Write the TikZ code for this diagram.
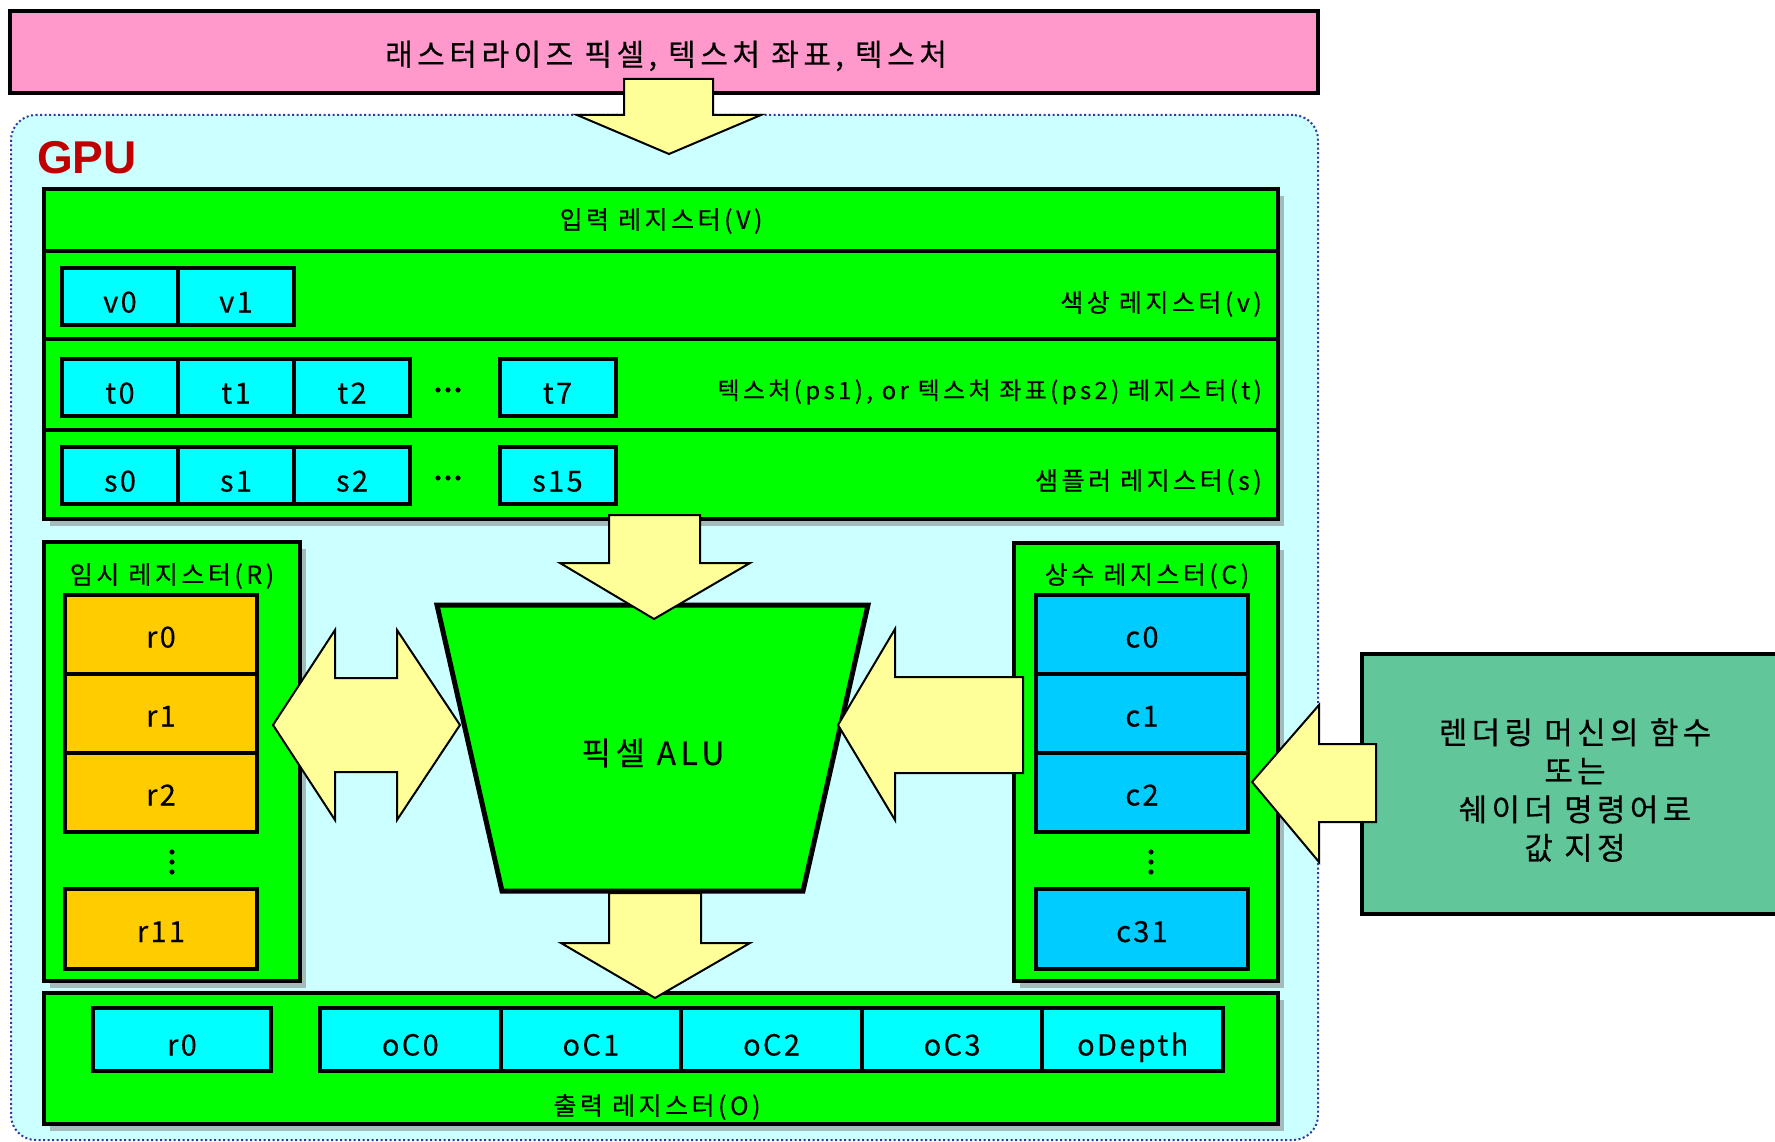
\documentclass[tikz,border=0pt]{standalone}
\usepackage{fontspec}
\setmainfont{Noto Sans CJK KR}
\newfontfamily\krA[LetterSpace=14,FakeBold=0.4]{Noto Sans CJK KR}
\newfontfamily\krB[LetterSpace=15,FakeBold=0.4]{Noto Sans CJK KR}
\newfontfamily\krC[LetterSpace=8,FakeBold=0.3]{Noto Sans CJK KR}
\newfontfamily\gpuf{Liberation Sans}
\usetikzlibrary{shadows}
\definecolor{pinkc}{HTML}{FF99CC}
\definecolor{bgc}{HTML}{CCFFFF}
\definecolor{greenc}{HTML}{00FF00}
\definecolor{cyanc}{HTML}{00FFFF}
\definecolor{orangec}{HTML}{FFCC00}
\definecolor{bluec}{HTML}{00CCFF}
\definecolor{yellowc}{HTML}{FFFF99}
\definecolor{seac}{HTML}{62C69B}
\definecolor{gpuc}{HTML}{C00000}
\definecolor{dotc}{HTML}{2E3A9E}
\definecolor{shadc}{HTML}{A3BBBB}
\begin{document}
\begin{tikzpicture}[x=1pt,y=-1pt,
  box/.style={draw=black, line width=4.5pt, rectangle, inner sep=0pt, outer sep=0pt},
  greenbox/.style={box, fill=greenc},
  shad/.style={general shadow={fill=shadc, shadow xshift=6pt, shadow yshift=-7pt}},
  cell/.style={box, line width=4pt, font=\krC\fontsize{29}{30}\selectfont},
  vcell/.style={cell, fill=cyanc, minimum width=116, minimum height=57, text height=32pt, text depth=0pt},
  rcell/.style={cell, fill=orangec, minimum width=192, text height=26pt, text depth=0pt},
  ccell/.style={cell, fill=bluec, minimum width=212, text height=26pt, text depth=0pt},
  ocell/.style={cell, fill=cyanc, minimum width=180.6, minimum height=63, text height=32pt, text depth=0pt},
  lbl/.style={font=\krA\fontsize{25}{27}\selectfont, inner sep=0pt, yshift=-4pt},
  bigarrow/.style={draw=black, fill=yellowc, line width=2pt, line join=miter},
  dotmark/.style={fill=black}
]
\useasboundingbox (0,0) rectangle (1775,1142);
\fill[white] (0,0) rectangle (1775,1142);

% GPU container
\node[draw=dotc, fill=bgc, line width=2pt, dash pattern=on 2pt off 2.5pt,
      rounded corners=25pt, minimum width=1307, minimum height=1025,
      inner sep=0pt] (gpu) at (664.5,627.5) {};
\node[text=gpuc, font=\gpuf\bfseries\fontsize{46}{46}\selectfont, inner sep=0pt] (gpulabel) at (87,158) {GPU};

% top source box
\node[box, line width=4pt, fill=pinkc, minimum width=1308, minimum height=82] (src) at (664,52) {};
\node[font=\krB\fontsize{30}{32}\selectfont, inner sep=0pt, yshift=-4pt] (srcT) at (666,52) {래스터라이즈 픽셀, 텍스처 좌표, 텍스처};

% top arrow
\draw[bigarrow] (624,79) -- (713,79) -- (713,115) -- (761,115) -- (669,154) -- (577,115) -- (624,115) -- cycle;

% input register block
\node[greenbox, shad, minimum width=1234, minimum height=330] (input) at (661,354) {};
\node[greenbox, minimum width=1234, minimum height=62] (inTitle) at (661,220) {};
\node[greenbox, minimum width=1234, minimum height=88] (inColor) at (661,295) {};
\node[greenbox, minimum width=1234, minimum height=91] (inTex) at (661,384.5) {};
\node[greenbox, minimum width=1234, minimum height=89] (inSamp) at (661,474.5) {};
\node[lbl] (inTitleT) at (661,217) {입력 레지스터(V)};
\node[lbl, anchor=east] (inColorT) at (1262,300) {색상 레지스터(v)};
\node[lbl, anchor=east, font=\krA\fontsize{24}{26}\selectfont] (inTexT) at (1262,388) {텍스처(ps1), or 텍스처 좌표(ps2) 레지스터(t)};
\node[lbl, anchor=east] (inSampT) at (1262,478) {샘플러 레지스터(s)};

\node[vcell] (v0) at (120,296.5) {v0};
\node[vcell] (v1) at (236,296.5) {v1};
\node[vcell] (t0) at (120,387.5) {t0};
\node[vcell] (t1) at (236,387.5) {t1};
\node[vcell] (t2) at (352,387.5) {t2};
\foreach \dx in {438,448,458} \fill[dotmark] (\dx,390) circle (2.6pt);
\node[vcell] (t7) at (557.5,387.5) {t7};
\node[vcell] (s0) at (120,475.5) {s0};
\node[vcell] (s1) at (236,475.5) {s1};
\node[vcell] (s2) at (352,475.5) {s2};
\foreach \dx in {438,448,458} \fill[dotmark] (\dx,478) circle (2.6pt);
\node[vcell] (s15) at (557.5,475.5) {s15};

% temp registers
\node[greenbox, shad, minimum width=256, minimum height=439] (temp) at (172,761.5) {};
\node[lbl] (tempT) at (172,572) {임시 레지스터(R)};
\node[rcell, minimum height=79] (r0) at (161,634.5) {r0};
\node[rcell, minimum height=79] (r1) at (161,713.5) {r1};
\node[rcell, minimum height=79] (r2) at (161,792.5) {r2};
\foreach \dy in {852,862,872} \fill[dotmark] (172,\dy) circle (2.6pt);
\node[rcell, minimum height=80] (r11) at (161,929) {r11};

% const registers
\node[greenbox, shad, minimum width=264, minimum height=438] (const) at (1146,762) {};
\node[lbl] (constT) at (1147,572) {상수 레지스터(C)};
\node[ccell, minimum height=79] (c0) at (1142,634.5) {c0};
\node[ccell, minimum height=79] (c1) at (1142,713.5) {c1};
\node[ccell, minimum height=79] (c2) at (1142,792.5) {c2};
\foreach \dy in {852,862,872} \fill[dotmark] (1151,\dy) circle (2.6pt);
\node[ccell, minimum height=80] (c31) at (1142,929) {c31};

% output registers
\node[greenbox, shad, minimum width=1234, minimum height=131] (output) at (661,1058.5) {};
\node[lbl] (outT) at (657,1103) {출력 레지스터(O)};
\node[ocell, minimum width=178] (or0) at (182,1039.5) {r0};
\node[ocell] (oC0) at (410.3,1039.5) {oC0};
\node[ocell] (oC1) at (590.9,1039.5) {oC1};
\node[ocell] (oC2) at (771.5,1039.5) {oC2};
\node[ocell] (oC3) at (952.1,1039.5) {oC3};
\node[ocell] (oDepth) at (1132.7,1039.5) {oDepth};

% right source box
\node[box, line width=4pt, fill=seac, minimum width=426, minimum height=260] (rbox) at (1575,784) {};
\node[align=center, font=\krA\fontsize{31}{38.5}\selectfont, inner sep=0pt] (rtext) at (1575,790)
  {렌더링 머신의 함수\\또는\\쉐이더 명령어로\\값 지정};

% ALU
\draw[fill=greenc, line width=5pt, line join=miter] (437,605) -- (868,605) -- (803,891) -- (502,891) -- cycle;
\node[font=\krA\fontsize{32}{34}\selectfont, inner sep=0pt] (alu) at (653,753) {픽셀 ALU};

% block arrows
\draw[bigarrow] (609,515) -- (700,515) -- (700,563) -- (750,563) -- (654,619) -- (560,563) -- (609,563) -- cycle;
\draw[bigarrow] (609,893) -- (701,893) -- (701,943) -- (750,943) -- (655,998) -- (561,943) -- (609,943) -- cycle;
\draw[bigarrow] (273,725) -- (335,630) -- (335,678) -- (397,678) -- (397,630) -- (460,725) -- (397,820) -- (397,772) -- (335,772) -- (335,820) -- cycle;
\draw[bigarrow] (838,725) -- (895,629) -- (895,677) -- (1023,677) -- (1023,773) -- (895,773) -- (895,820) -- cycle;
\draw[bigarrow] (1252,782) -- (1319,705) -- (1319,744) -- (1376,744) -- (1376,822) -- (1319,822) -- (1319,862) -- cycle;
\end{tikzpicture}
\end{document}
